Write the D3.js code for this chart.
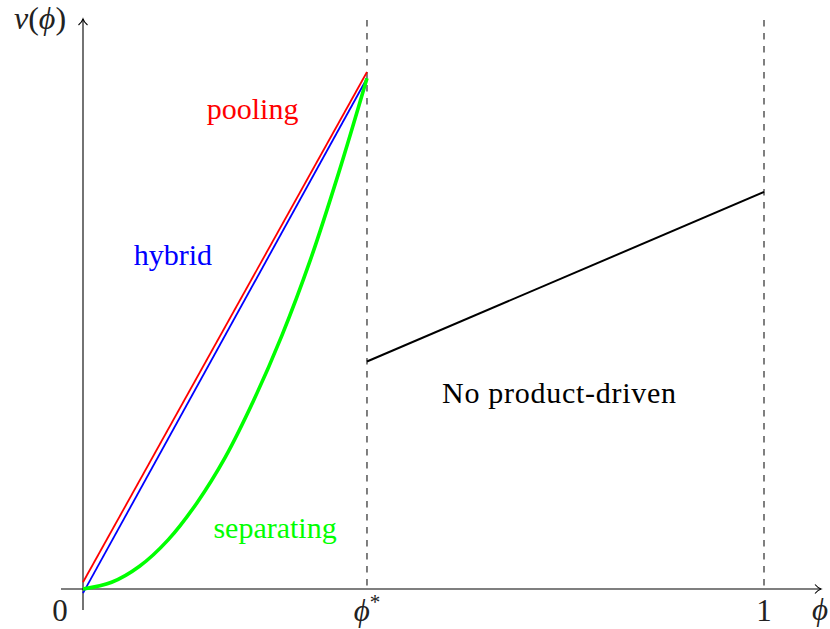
<!DOCTYPE html>
<html><head><meta charset="utf-8">
<script src="https://cdn.jsdelivr.net/npm/d3@7"></script>
<style>body{margin:0;background:#fff}svg{display:block}</style>
</head><body>
<svg id="c" width="830" height="629"></svg>
<script>
const phiStar = 0.417;
const tickValues = [0, phiStar, 1];
const tickLabels = ["0", "ϕ*", "1"];
const pooling = [[0, 0.013], [phiStar, 1.0]];
const hybrid = [[0, -0.008], [phiStar, 0.988]];
const separating = [[0,0],[0.042,0.013],[0.083,0.044],[0.125,0.095],[0.167,0.166],[0.209,0.255],[0.25,0.363],[0.292,0.49],[0.334,0.637],[0.375,0.803],[phiStar,0.988]];
const noProduct = [[phiStar, 0.44], [1, 0.768]];
const regionLabels = [
  {text:"pooling", x:0.249, y:0.91, color:"#ff0000"},
  {text:"hybrid", x:0.132, y:0.627, color:"#0000ff"},
  {text:"separating", x:0.282, y:0.098, color:"#00ff00"},
  {text:"No product-driven", x:0.699, y:0.36, color:"#000000"}
];

const svg = d3.select("#c");
const x = d3.scaleLinear().domain([0,1]).range([83,764]);
const y = d3.scaleLinear().domain([0,1]).range([589,72]);
const font = "'Liberation Serif', 'Times New Roman', serif";

// dashed verticals
[phiStar, 1].forEach(v => {
  svg.append("line").attr("x1", x(v)).attr("x2", x(v)).attr("y1", 20).attr("y2", y(0))
    .attr("stroke", "#555").attr("stroke-width", 1.5).attr("stroke-dasharray", "6.5,6.5");
});

// axes
svg.append("line").attr("x1", 61).attr("x2", 821).attr("y1", y(0)).attr("y2", y(0)).attr("stroke","#000").attr("stroke-width",1.1);
svg.append("line").attr("x1", x(0)).attr("x2", x(0)).attr("y1", 610).attr("y2", 19).attr("stroke","#000").attr("stroke-width",1.1);
svg.append("path").attr("d", `M${815},${y(0)-4.5} Q${818},${y(0)-1} ${821},${y(0)} Q${818},${y(0)+1} ${815},${y(0)+4.5}`)
  .attr("fill","none").attr("stroke","#000").attr("stroke-width",1.1);
svg.append("path").attr("d", `M${x(0)-4.5},25 Q${x(0)-1},22 ${x(0)},19 Q${x(0)+1},22 ${x(0)+4.5},25`)
  .attr("fill","none").attr("stroke","#000").attr("stroke-width",1.1);

const line = d3.line().x(d => x(d[0])).y(d => y(d[1]));
svg.append("path").datum(pooling).attr("d", line).attr("fill","none").attr("stroke","#ff0000").attr("stroke-width",1.8);
svg.append("path").datum(hybrid).attr("d", line).attr("fill","none").attr("stroke","#0000ff").attr("stroke-width",1.8);
svg.append("path").datum(separating).attr("d", d3.line().x(d => x(d[0])).y(d => y(d[1])).curve(d3.curveCatmullRom)).attr("fill","none").attr("stroke","#00ff00").attr("stroke-width",3.6);
svg.append("path").datum(noProduct).attr("d", line).attr("fill","none").attr("stroke","#000").attr("stroke-width",2);

// labels
regionLabels.forEach(l => {
  const t = svg.append("text").attr("x", x(l.x)).attr("y", y(l.y)).attr("text-anchor","middle")
    .attr("font-family", font).attr("font-size", 30).attr("fill", l.color).text(l.text);
  if (l.text.startsWith("No")) t.attr("textLength", 234).attr("lengthAdjust", "spacing");
});

// tick labels
const tickDx = [-23, 0, 0];
tickValues.forEach((v, i) => {
  const t = svg.append("text").attr("x", x(v) + tickDx[i]).attr("y", 621).attr("text-anchor","middle")
    .attr("font-family", font).attr("font-size", 31).attr("fill","#222");
  if (tickLabels[i] === "ϕ*") {
    t.append("tspan").attr("font-style","italic").text("ϕ");
    t.append("tspan").attr("font-size", 21).attr("dy", -12).text("*");
  } else t.text(tickLabels[i]);
});
svg.append("text").attr("x", 820).attr("y", 620).attr("text-anchor","middle")
  .attr("font-family", font).attr("font-size", 31).attr("font-style","italic").attr("fill","#222").text("ϕ");

const yl = svg.append("text").attr("x", 40).attr("y", 29).attr("text-anchor","middle")
  .attr("font-family", font).attr("font-size", 32).attr("fill","#222");
yl.append("tspan").attr("font-style","italic").text("ν");
yl.append("tspan").text("(");
yl.append("tspan").attr("font-style","italic").text("ϕ");
yl.append("tspan").text(")");
</script>
</body></html>
